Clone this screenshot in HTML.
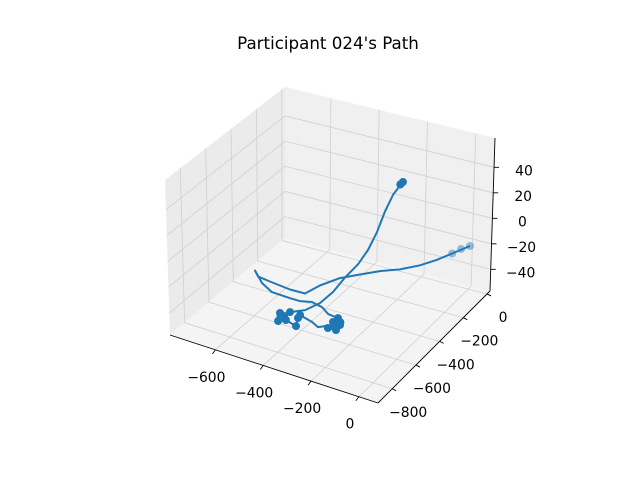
<!DOCTYPE html>
<html><head><meta charset="utf-8"><style>
html,body{margin:0;padding:0;background:#fff}
svg{display:block;font-family:"DejaVu Sans","Liberation Sans",sans-serif}
</style></head><body>
<svg id="chart" width="640" height="480" viewBox="0 0 640 480">
<rect width="640" height="480" fill="#fff"/>
<text x="328" y="49" text-anchor="middle" font-size="16.7" fill="#000">Participant 024's Path</text>
<g id="panes"></g>
<g id="grid"></g>
<g id="axes"></g>
<g id="series"></g>
</svg>
<script>
const xTicks = [-600, -400, -200, 0];
const yTicks = [-800, -600, -400, -200, 0];
const zTicks = [-40, -20, 0, 20, 40];
const xLim = [-790, 80];
const yLim = [-920, 25];
const zLim = [-57, 63];
// path coordinates (data units)
const pathX = [15,-30,-67,-117,-176,-249,-315,-372,-415,-440,-500,-589,-643,-673,-616,-554,-479,-438,-398,-350,-306,-262,-263,-231,-225,-257,-270,-290,-326,-387,-383,-360,-412,-432,-455,-432,-428,-390,-370,-343,-313,-280,-251,-228,-210,-191,-170];
const pathY = [-36,-94,-146,-188,-236,-258,-292,-345,-425,-498,-504,-494,-486,-451,-505,-546,-547,-545,-524,-536,-571,-577,-616,-621,-666,-670,-660,-686,-664,-643,-668,-729,-710,-735,-674,-686,-645,-596,-513,-459,-418,-376,-352,-324,-293,-263,-224];
const pathZ = [-9,-13,-16,-20,-23,-27,-31,-33,-35,-37,-37,-37,-37,-37,-39,-39,-39,-39,-39,-39,-39,-39,-39,-39,-39,-39,-39,-39,-39,-39,-39,-39,-39,-39,-39,-39,-39,-39,-39,-33,-23,-14,-3,10,25,37,45];
// marker points (data units)
const markX = [-170,-178,15,-30,-10,-455,-428,-383,-360,-412,-432,-432,-387,-440,-263,-231,-225,-257,-262,-245,-240];
const markY = [-224,-230,-36,-94,-60,-674,-645,-668,-729,-710,-735,-686,-643,-700,-616,-621,-666,-670,-577,-640,-600];
const markZ = [45,43,-9,-13,-11,-39,-39,-39,-39,-39,-39,-39,-39,-39,-39,-39,-39,-39,-39,-39,-39];

const C = {
 '000':[170,335],'100':[378,403],'110':[490,291],'010':[285,238],
 '001':[165,180],'101':[380,250],'111':[495,138],'011':[285,87]
};
function norm(x,y,z){return [(x-xLim[0])/(xLim[1]-xLim[0]),(y-yLim[0])/(yLim[1]-yLim[0]),(z-zLim[0])/(zLim[1]-zLim[0])];}
function proj(x,y,z){
 const [u,v,w]=norm(x,y,z);
 let sx=0,sy=0;
 for(const a of [0,1])for(const b of [0,1])for(const c of [0,1]){
  const wt=(a?u:1-u)*(b?v:1-v)*(c?w:1-w);
  const p=C[''+a+b+c]; sx+=wt*p[0]; sy+=wt*p[1];
 }
 return [sx,sy];
}
function projPt(x,y,z){
 const [u,v,w]=norm(x,y,z);
 return [170+208*u+115*v, 335+68*u-97*v-153*w];
}
const NS='http://www.w3.org/2000/svg';
function mk(tag,attrs,parent){const e=document.createElementNS(NS,tag);for(const k in attrs)e.setAttribute(k,attrs[k]);parent.appendChild(e);return e;}
function poly(pts){return pts.map(p=>p[0].toFixed(1)+','+p[1].toFixed(1)).join(' ');}
const panes=document.getElementById('panes'),grid=document.getElementById('grid'),axes=document.getElementById('axes'),series=document.getElementById('series');
const [x0,x1]=xLim,[y0,y1]=yLim,[z0,z1]=zLim;
let e;
e=mk('polygon',{points:poly([proj(x0,y0,z0),proj(x0,y1,z0),proj(x0,y1,z1),proj(x0,y0,z1)]),fill:'#ebebeb'},panes);


e=mk('polygon',{points:poly([proj(x0,y1,z0),proj(x1,y1,z0),proj(x1,y1,z1),proj(x0,y1,z1)]),fill:'#f0f0f0'},panes);


e=mk('polygon',{points:poly([proj(x0,y0,z0),proj(x1,y0,z0),proj(x1,y1,z0),proj(x0,y1,z0)]),fill:'#f4f4f4'},panes);


function gl(a,b){return mk('line',{x1:a[0],y1:a[1],x2:b[0],y2:b[1],stroke:'#d0d0d0','stroke-width':0.8},grid);}
xTicks.forEach(t=>{
 e=gl(proj(t,y0,z0),proj(t,y1,z0));
 
 
 e=gl(proj(t,y1,z0),proj(t,y1,z1));
 
 
});
yTicks.forEach(t=>{
 e=gl(proj(x0,t,z0),proj(x1,t,z0));
 
 
 e=gl(proj(x0,t,z0),proj(x0,t,z1));
 
 
});
zTicks.forEach(t=>{
 e=gl(proj(x0,y0,t),proj(x0,y1,t));
 
 
 e=gl(proj(x0,y1,t),proj(x1,y1,t));
 
 
});
function al(a,b){return mk('line',{x1:a[0],y1:a[1],x2:b[0],y2:b[1],stroke:'#000','stroke-width':0.9},axes);}
e=al(proj(x0,y0,z0),proj(x1,y0,z0));


e=al(proj(x1,y0,z0),proj(x1,y1,z0));


e=al(proj(x1,y1,z0),proj(x1,y1,z1));


function lbl(v){return v<0?'\u2212'+Math.abs(v):''+v;}
function txt(p,s){const t=mk('text',{x:p[0].toFixed(1),y:p[1].toFixed(1),'text-anchor':'middle','font-size':'13.9',fill:'#000'},axes);t.textContent=s;return t;}
xTicks.forEach(t=>{
 const p=proj(t,y0,z0);
 e=al([p[0],p[1]],[p[0]-3,p[1]+4]);
 
 
 e=txt([p[0]-9,p[1]+32],lbl(t));
 
 
});
yTicks.forEach(t=>{
 const q=proj(x1,t,z0);
 e=al([q[0],q[1]],[q[0]+4,q[1]+2]);
 
 
 e=txt([q[0]+16,q[1]+28],lbl(t));
 
 
});
zTicks.forEach(t=>{
 const p=proj(x1,y1,t);
 e=al([p[0],p[1]],[p[0]+5,p[1]]);
 
 
 e=txt([p[0]+30,p[1]+8],lbl(t));
 
 
});
const pts=pathX.map((x,i)=>projPt(x,pathY[i],pathZ[i]));
e=mk('polyline',{points:poly(pts),fill:'none',stroke:'#1f77b4','stroke-width':2,'stroke-linejoin':'round'},series);


markX.forEach((x,i)=>{
 const p=projPt(x,markY[i],markZ[i]);
 const op=(i>=2&&i<=4)?0.45:1;
 const c=mk('circle',{cx:p[0].toFixed(1),cy:p[1].toFixed(1),r:4,fill:'#1f77b4','fill-opacity':op},series);
 
 
});
</script>
</body></html>
